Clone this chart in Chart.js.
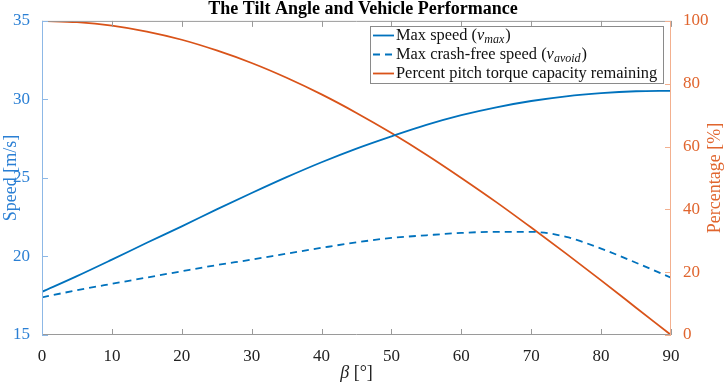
<!DOCTYPE html>
<html>
<head>
    <meta charset="utf-8">
    <title>The Tilt Angle and Vehicle Performance</title>
    <script src="https://cdn.jsdelivr.net/npm/chart.js"></script>
    <style>
        body { margin: 0; background: #fff; }
        #wrap { width: 726px; height: 384px; }
    </style>
</head>
<body>
    <div id="wrap"><canvas id="tiltChart" width="726" height="384"></canvas></div>
    <script>
        // values, every 5 degrees
        const beta = [0, 5, 10, 15, 20, 25, 30, 35, 40, 45, 50, 55, 60, 65, 70, 75, 80, 85, 90];
        const maxSpeed = [17.75, 18.75, 19.8, 20.87, 21.92, 23.0, 24.04, 25.05, 26.0, 26.87, 27.65, 28.38, 29.0, 29.5, 29.9, 30.2, 30.4, 30.52, 30.55];
        const avoidSpeed = [17.4, 17.85, 18.26, 18.66, 19.06, 19.45, 19.8, 20.18, 20.55, 20.9, 21.18, 21.35, 21.5, 21.57, 21.57, 21.25, 20.5, 19.6, 18.65];
        const torqueLeft = [100, 99.6, 98.5, 96.6, 94.0, 90.6, 86.6, 81.9, 76.6, 70.7, 64.3, 57.4, 50.0, 42.3, 34.2, 25.9, 17.4, 8.7, 0];

        const legendText = ['Max speed (', 'Max crash-free speed (', 'Percent pitch torque capacity remaining'];
        const legendSub = ['max', 'avoid', ''];

        const blue = '#0072BD';
        const red = '#D95319';
        const serif = '"Liberation Serif", "Times New Roman", serif';

        function pts(ys) {
            return beta.map((b, i) => ({ x: b, y: ys[i] }));
        }

        // MATLAB style frame with inward ticks, plus the custom axis titles
        const framePlugin = {
            id: 'frame',
            afterDatasetsDraw(chart) {
                const ctx = chart.ctx;
                const a = chart.chartArea;
                const xs = chart.scales.x, yl = chart.scales.y, yr = chart.scales.y2;
                ctx.save();
                ctx.lineWidth = 1;
                ctx.strokeStyle = '#9a9a9a';
                ctx.beginPath();
                ctx.moveTo(a.left, a.top + 0.5); ctx.lineTo(a.right, a.top + 0.5);
                ctx.moveTo(a.left, a.bottom - 0.5); ctx.lineTo(a.right, a.bottom - 0.5);
                xs.ticks.forEach(t => {
                    const px = Math.round(xs.getPixelForValue(t.value)) + 0.5;
                    ctx.moveTo(px, a.bottom); ctx.lineTo(px, a.bottom - 6);
                    ctx.moveTo(px, a.top); ctx.lineTo(px, a.top + 6);
                });
                ctx.stroke();

                ctx.strokeStyle = '#8db8e6';
                ctx.beginPath();
                ctx.moveTo(a.left + 0.5, a.top); ctx.lineTo(a.left + 0.5, a.bottom);
                yl.ticks.forEach(t => {
                    const py = Math.round(yl.getPixelForValue(t.value)) + 0.5;
                    ctx.moveTo(a.left, py); ctx.lineTo(a.left + 6, py);
                });
                ctx.stroke();

                ctx.strokeStyle = '#f3b08f';
                ctx.beginPath();
                ctx.moveTo(a.right - 0.5, a.top); ctx.lineTo(a.right - 0.5, a.bottom);
                yr.ticks.forEach(t => {
                    const py = Math.round(yr.getPixelForValue(t.value)) + 0.5;
                    ctx.moveTo(a.right, py); ctx.lineTo(a.right - 6, py);
                });
                ctx.stroke();

                // right title reads bottom to top, like the left one
                ctx.fillStyle = '#e0652e';
                ctx.font = '18px ' + serif;
                ctx.textAlign = 'center';
                ctx.textBaseline = 'middle';
                ctx.translate(715, (a.top + a.bottom) / 2);
                ctx.rotate(-Math.PI / 2);
                ctx.fillText('Percentage [%]', 0, 0);
                ctx.setTransform(1, 0, 0, 1, 0, 0);

                // x title with italic beta
                const cx = (a.left + a.right) / 2, cy = 373;
                ctx.fillStyle = '#222';
                ctx.font = 'italic 18px ' + serif;
                const w1 = ctx.measureText('β').width;
                ctx.font = '18px ' + serif;
                const w2 = ctx.measureText(' [°]').width;
                ctx.textAlign = 'left';
                let tx = cx - (w1 + w2) / 2;
                ctx.font = 'italic 18px ' + serif;
                ctx.fillText('β', tx, cy);
                ctx.font = '18px ' + serif;
                ctx.fillText(' [°]', tx + w1, cy);
                ctx.restore();
            }
        };

        // legend box with subscripted symbols
        const legendPlugin = {
            id: 'mathLegend',
            afterDraw(chart) {
                const ctx = chart.ctx;
                const bx = 370, by = 26, bw = 293, bh = 57;
                ctx.save();
                ctx.fillStyle = '#fff';
                ctx.fillRect(bx, by, bw, bh);
                ctx.strokeStyle = '#8a8a8a';
                ctx.lineWidth = 1;
                ctx.strokeRect(bx + 0.5, by + 0.5, bw, bh);
                chart.data.datasets.forEach((ds, i) => {
                    const y = by + 9.5 + i * 19;
                    ctx.strokeStyle = ds.borderColor;
                    ctx.lineWidth = 1.8;
                    ctx.setLineDash(ds.borderDash || []);
                    ctx.beginPath();
                    ctx.moveTo(bx + 3, y); ctx.lineTo(bx + 24, y);
                    ctx.stroke();
                    ctx.setLineDash([]);
                    ctx.fillStyle = '#111';
                    ctx.textBaseline = 'middle';
                    ctx.font = '16.4px ' + serif;
                    let tx = bx + 26;
                    ctx.fillText(legendText[i], tx, y);
                    if (legendSub[i]) {
                        tx += ctx.measureText(legendText[i]).width;
                        ctx.font = 'italic 16.4px ' + serif;
                        ctx.fillText('v', tx, y);
                        tx += ctx.measureText('v').width;
                        ctx.font = 'italic 12px ' + serif;
                        ctx.fillText(legendSub[i], tx, y + 4);
                        tx += ctx.measureText(legendSub[i]).width + 1;
                        ctx.font = '16.4px ' + serif;
                        ctx.fillText(')', tx, y);
                    }
                });
                ctx.restore();
            }
        };

        new Chart(document.getElementById('tiltChart'), {
            type: 'line',
            data: {
                datasets: [
                    {
                        label: 'Max speed (vmax)',
                        data: pts(maxSpeed),
                        borderColor: blue,
                        borderWidth: 1.8,
                        pointRadius: 0,
                        cubicInterpolationMode: 'monotone',
                        yAxisID: 'y'
                    },
                    {
                        label: 'Max crash-free speed (vavoid)',
                        data: pts(avoidSpeed),
                        borderColor: blue,
                        borderWidth: 1.8,
                        borderDash: [7, 5],
                        pointRadius: 0,
                        cubicInterpolationMode: 'monotone',
                        yAxisID: 'y'
                    },
                    {
                        label: 'Percent pitch torque capacity remaining',
                        data: pts(torqueLeft),
                        borderColor: red,
                        borderWidth: 1.8,
                        pointRadius: 0,
                        cubicInterpolationMode: 'monotone',
                        yAxisID: 'y2'
                    }
                ]
            },
            options: {
                responsive: false,
                animation: false,
                layout: { padding: 0 },
                plugins: {
                    legend: { display: false },
                    tooltip: { enabled: false },
                    title: {
                        display: true,
                        text: 'The Tilt Angle and Vehicle Performance',
                        color: '#000',
                        font: { family: serif, size: 18, weight: 'bold', lineHeight: 1.05 },
                        padding: { top: 0, bottom: 2 }
                    }
                },
                scales: {
                    x: {
                        type: 'linear',
                        min: 0, max: 90,
                        grid: { display: false },
                        border: { display: false },
                        ticks: { stepSize: 10, color: '#222', padding: 3, font: { family: serif, size: 17 } },
                        afterFit: s => { s.height = 49; }
                    },
                    y: {
                        position: 'left',
                        min: 15, max: 35,
                        grid: { display: false },
                        border: { display: false },
                        ticks: { stepSize: 5, color: '#2a7fd4', padding: 4, font: { family: serif, size: 17 } },
                        title: { display: true, text: 'Speed [m/s]', color: '#2a7fd4', padding: 0, font: { family: serif, size: 18 } },
                        afterFit: s => { s.width = 42; }
                    },
                    y2: {
                        position: 'right',
                        min: 0, max: 100,
                        grid: { display: false },
                        border: { display: false },
                        ticks: { stepSize: 20, color: '#e0652e', padding: 4, font: { family: serif, size: 17 } },
                        afterFit: s => { s.width = 55; }
                    }
                }
            },
            plugins: [framePlugin, legendPlugin]
        });
    </script>
</body>
</html>
